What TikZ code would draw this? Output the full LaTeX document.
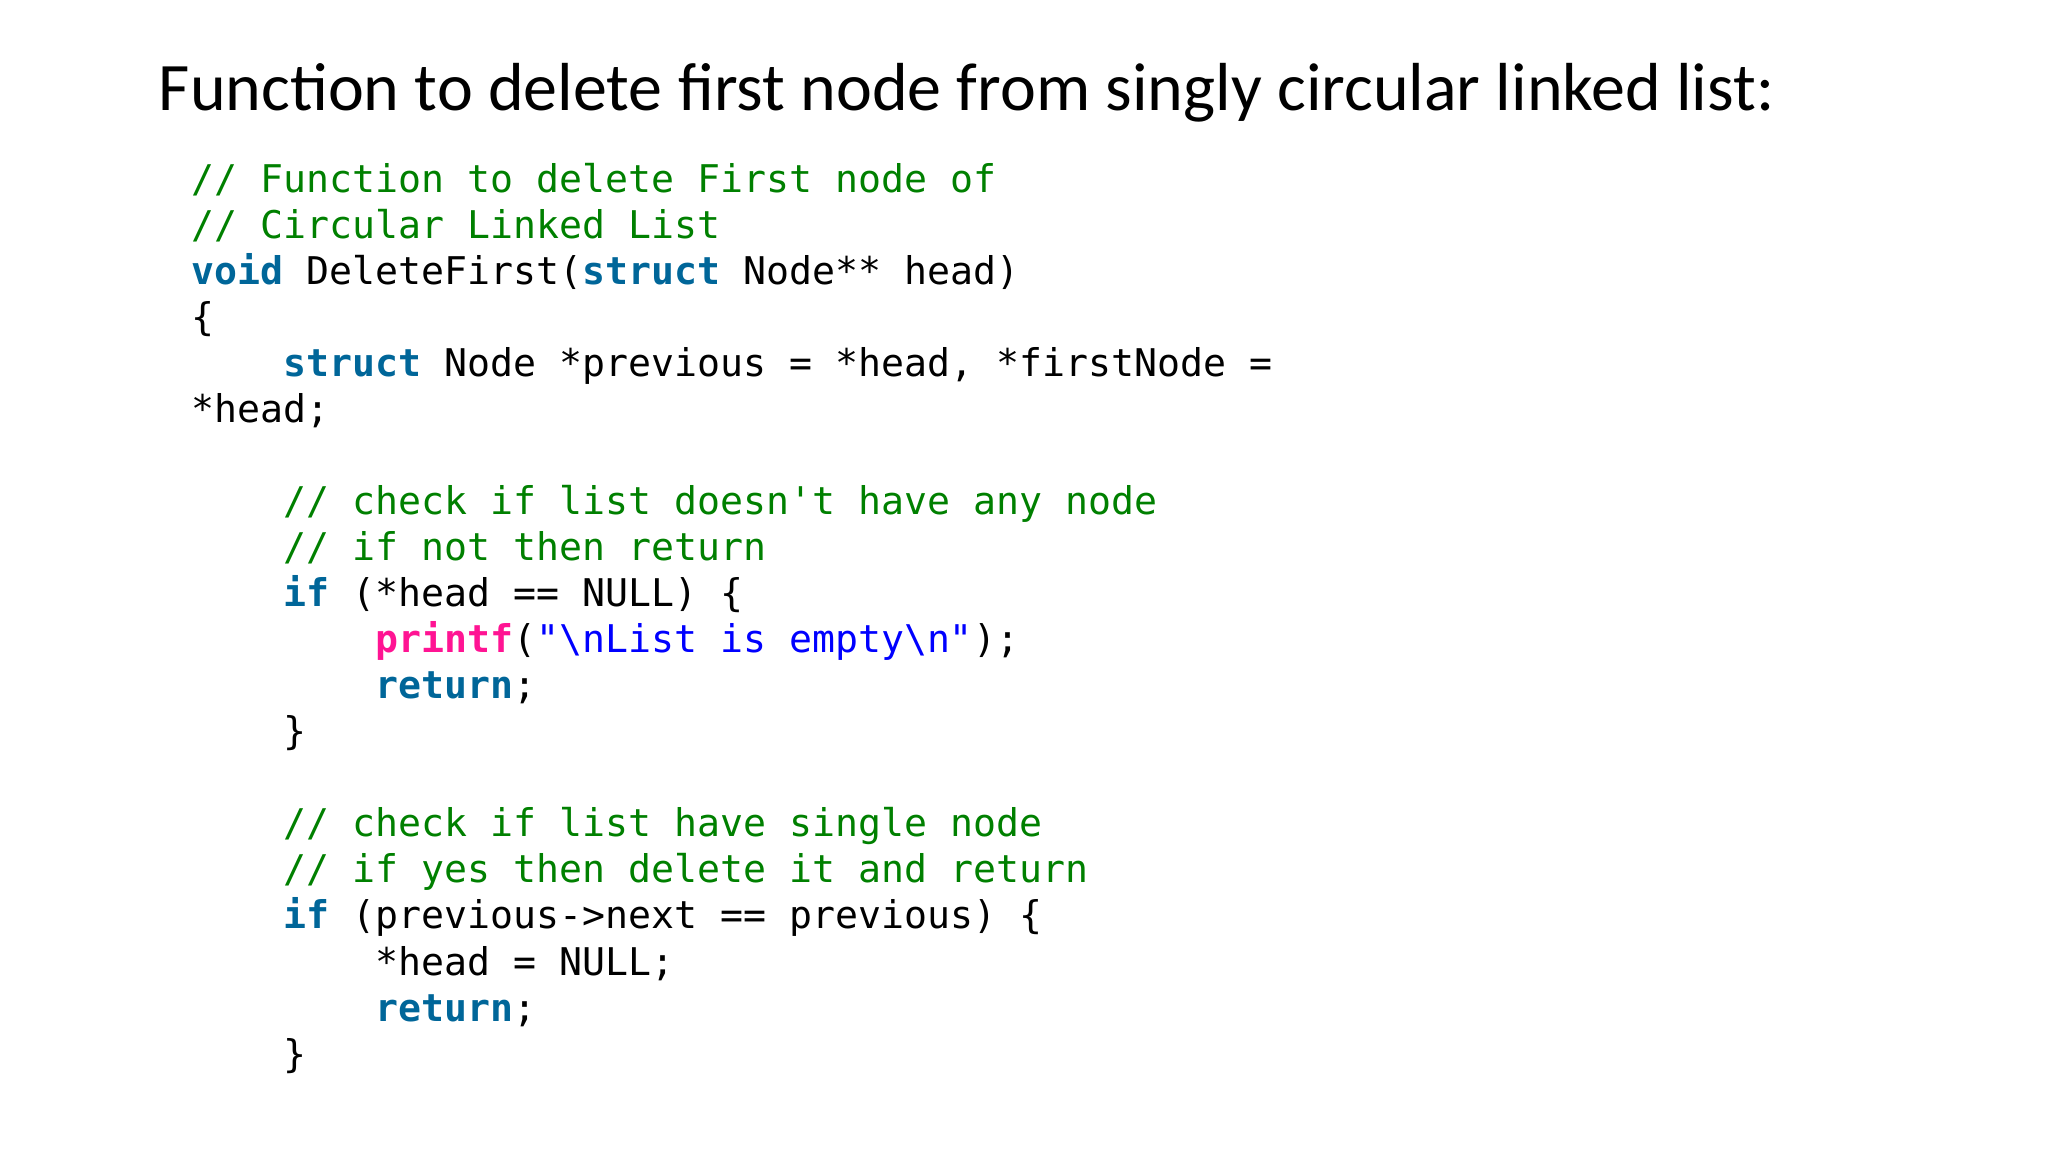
\documentclass[tikz,border=0pt]{standalone}
\usepackage{fontspec}
\setmainfont{Carlito}
\newfontfamily\codefont{DejaVu Sans Mono}
\definecolor{cmt}{RGB}{0,128,0}
\definecolor{kw}{RGB}{0,102,153}
\definecolor{fn}{RGB}{255,20,147}
\definecolor{str}{RGB}{0,0,255}
\newcommand{\kwd}[1]{\textcolor{kw}{\bfseries #1}}
\newcommand{\cm}[1]{\textcolor{cmt}{#1}}
\begin{document}
\begin{tikzpicture}[x=0.661pt,y=-0.661pt,
  cl/.style={anchor=base west,inner sep=0pt,font=\codefont\fontsize{19.1pt}{23pt}\selectfont}]
\useasboundingbox (0,0) rectangle (1550,872);
\node[anchor=base west,inner sep=0pt,font=\fontsize{34pt}{40pt}\selectfont] (title) at (120,84) {Function to delete first node from singly circular linked list:};
\def\cw{17.35}
\def\ls{34.85}
\def\bx{145}
\def\by{145.5}
\node[cl] (l1) at (\bx,\by+0*\ls) {\cm{// Function to delete First node of}};
\node[cl] (l2) at (\bx,\by+1*\ls) {\cm{// Circular Linked List}};
\node[cl] (l3) at (\bx,\by+2*\ls) {\kwd{void} DeleteFirst(\kwd{struct} Node** head)};
\node[cl] (l4) at (\bx,\by+3*\ls) {\{};
\node[cl] (l5) at (\bx+4*\cw,\by+4*\ls) {\kwd{struct} Node *previous = *head, *firstNode =};
\node[cl] (l6) at (\bx,\by+5*\ls) {*head;};
\node[cl] (l8) at (\bx+4*\cw,\by+7*\ls) {\cm{// check if list doesn't have any node}};
\node[cl] (l9) at (\bx+4*\cw,\by+8*\ls) {\cm{// if not then return}};
\node[cl] (l10) at (\bx+4*\cw,\by+9*\ls) {\kwd{if} (*head == NULL) \{};
\node[cl] (l11) at (\bx+8*\cw,\by+10*\ls) {\textcolor{fn}{\bfseries printf}(\textcolor{str}{"\textbackslash nList is empty\textbackslash n"});};
\node[cl] (l12) at (\bx+8*\cw,\by+11*\ls) {\kwd{return};};
\node[cl] (l13) at (\bx+4*\cw,\by+12*\ls) {\}};
\node[cl] (l15) at (\bx+4*\cw,\by+14*\ls) {\cm{// check if list have single node}};
\node[cl] (l16) at (\bx+4*\cw,\by+15*\ls) {\cm{// if yes then delete it and return}};
\node[cl] (l17) at (\bx+4*\cw,\by+16*\ls) {\kwd{if} (previous->next == previous) \{};
\node[cl] (l18) at (\bx+8*\cw,\by+17*\ls) {*head = NULL;};
\node[cl] (l19) at (\bx+8*\cw,\by+18*\ls) {\kwd{return};};
\node[cl] (l20) at (\bx+4*\cw,\by+19*\ls) {\}};
\end{tikzpicture}
\end{document}
